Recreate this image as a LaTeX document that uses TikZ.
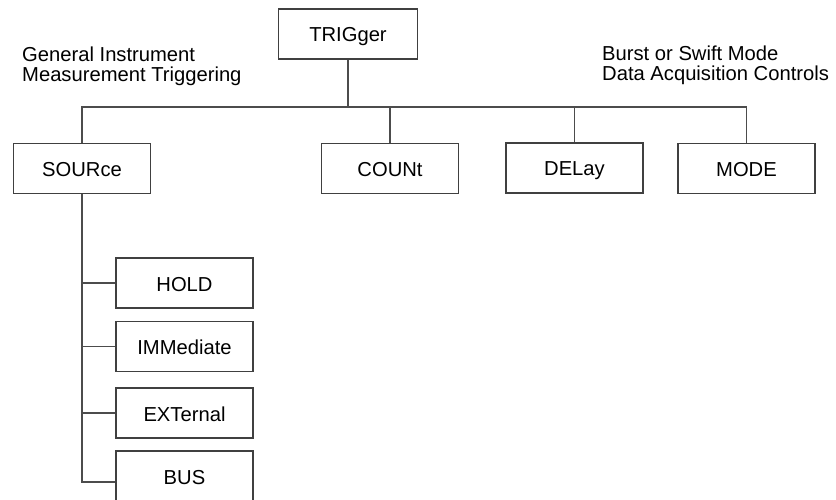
\documentclass[tikz,border=0pt]{standalone}
\usepackage{fontspec}
\setmainfont{Liberation Sans}
\begin{document}
\begin{tikzpicture}[x=1pt,y=-1pt,
  every node/.style={font=\fontsize{20.2}{19.5}\selectfont},
  box/.style={draw=black!75, line width=1.1pt, minimum width=137pt, minimum height=50pt,
              inner sep=0pt, text height=16pt, text depth=0pt},
  conn/.style={draw=black!70, line width=1.1pt},
  note/.style={align=left, inner sep=0pt, anchor=base west}]
\useasboundingbox (0,0) rectangle (836,500);
\clip (0,0) rectangle (836,500);
\node[box, minimum width=139pt] (trig) at (348,34) {TRIGger};
\node[box] (source) at (82,168.5) {SOURce};
\node[box] (count) at (390,168.5) {COUNt};
\node[box] (delay) at (574.5,168) {DELay};
\node[box] (mode) at (746.5,168.5) {MODE};
\node[box] (hold) at (184.5,283) {HOLD};
\node[box] (imm) at (184.5,346.5) {IMMediate};
\node[box] (ext) at (184.5,413) {EXTernal};
\node[box] (bus) at (184.5,476) {BUS};
\coordinate (busline) at (348,107);
\node[note] (ltxt) at (22,81.5) {General Instrument\\Measurement Triggering};
\node[note] (rtxt) at (602,80.5) {Burst or Swift Mode\\Data Acquisition Controls};
\draw[conn] (trig.south) -- (busline);
\draw[conn] (source.north) |- (mode.north |- busline) -- (mode.north);
\draw[conn] (count.north |- busline) -- (count.north);
\draw[conn] (delay.north |- busline) -- (delay.north);
\draw[conn] (source.south) |- ([yshift=-6pt]bus.west);
\draw[conn] (source.south |- hold.west) -- (hold.west);
\draw[conn] (source.south |- imm.west) -- (imm.west);
\draw[conn] (source.south |- ext.west) -- (ext.west);
\end{tikzpicture}
\end{document}
